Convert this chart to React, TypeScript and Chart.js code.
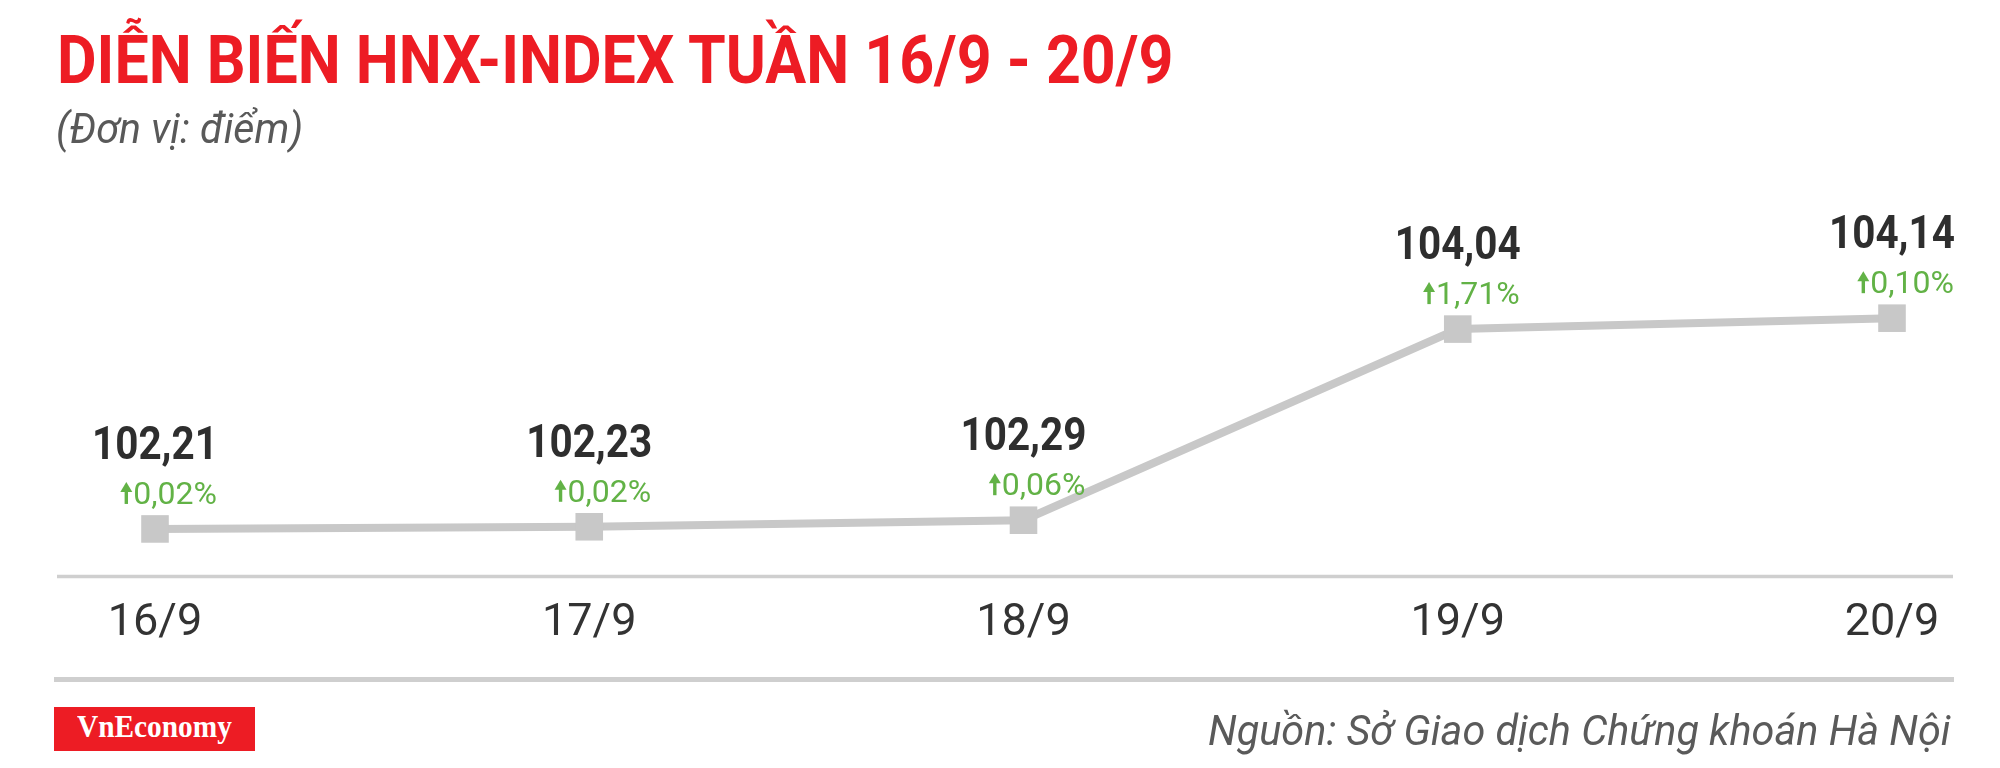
import React, { useEffect, useLayoutEffect, useRef, useState } from "react";
import { Chart, registerables } from "chart.js";

Chart.register(...registerables);

// ---- Data ----
const categories: string[] = ["16/9", "17/9", "18/9", "19/9", "20/9"];
const indexValues: number[] = [102.21, 102.23, 102.29, 104.04, 104.14];
const changePercents: number[] = [0.02, 0.02, 0.06, 1.71, 0.1];
const yRange: number[] = [101.77, 105.68];

const TITLE = "DIỄN BIẾN HNX-INDEX TUẦN 16/9 - 20/9";
const SUBTITLE = "(Đơn vị: điểm)";
const SOURCE = "Nguồn: Sở Giao dịch Chứng khoán Hà Nội";
const LOGO = "VnEconomy";

const RED = "#ed1c24";
const LINE = "#c8c8c8";
const RULE = "#cfcfcf";
const DARK = "#2e2e2e";
const GREEN = "#62b246";

const fmt = (v: number, d: number) => v.toFixed(d).replace(".", ",");

type FitProps = {
  text: string;
  left: number;
  right: number;
  top: number;
  fontSize: number;
  origin?: string;
  style?: React.CSSProperties;
};

function FitText({ text, left, right, top, fontSize, origin = "left top", style }: FitProps) {
  const ref = useRef<HTMLSpanElement>(null);
  const [k, setK] = useState(1);
  useLayoutEffect(() => {
    const measure = () => {
      if (ref.current) {
        const w = ref.current.offsetWidth;
        if (w) setK((right - left) / w);
      }
    };
    measure();
    if ((document as any).fonts && (document as any).fonts.ready) {
      (document as any).fonts.ready.then(measure);
    }
  }, [text, left, right]);
  return (
    <div
      style={{
        position: "absolute",
        left,
        top,
        width: right - left,
        height: fontSize,
        fontSize,
        lineHeight: `${fontSize}px`,
        whiteSpace: "nowrap",
        ...style,
      }}
    >
      <span
        ref={ref}
        style={{ display: "inline-block", transform: `scaleX(${k})`, transformOrigin: origin }}
      >
        {text}
      </span>
    </div>
  );
}

const decorPlugin = {
  id: "decor",
  beforeDatasetsDraw(chart: any) {
    const { ctx, chartArea } = chart;
    ctx.save();
    ctx.strokeStyle = RULE;
    ctx.lineWidth = 3.5;
    ctx.beginPath();
    ctx.moveTo(57, chartArea.bottom - 0.5);
    ctx.lineTo(1953, chartArea.bottom - 0.5);
    ctx.stroke();
    ctx.lineWidth = 5;
    ctx.beginPath();
    ctx.moveTo(54, 679.5);
    ctx.lineTo(1954, 679.5);
    ctx.stroke();
    ctx.restore();
  },
};

const labelPlugin = {
  id: "pointLabels",
  afterDatasetsDraw(chart: any) {
    const { ctx } = chart;
    const meta = chart.getDatasetMeta(0);
    meta.data.forEach((pt: any, i: number) => {
      const x = pt.x;
      const y = pt.y;
      // value label
      ctx.save();
      ctx.translate(x, y - 70);
      ctx.scale(0.86, 1);
      ctx.font = "bold 47px Roboto";
      ctx.fillStyle = DARK;
      ctx.textAlign = "center";
      ctx.textBaseline = "alphabetic";
      ctx.fillText(fmt(indexValues[i], 2), 0, 0);
      ctx.restore();

      // percent label
      ctx.save();
      ctx.font = "32px Roboto";
      ctx.fillStyle = GREEN;
      ctx.textAlign = "right";
      ctx.textBaseline = "alphabetic";
      const txt = fmt(changePercents[i], 2) + "%";
      const rx = x + 62;
      const by = y - 25;
      ctx.fillText(txt, rx, by);
      const w = ctx.measureText(txt).width;
      const ax = rx - w - 7;
      const h = 22;
      ctx.fillRect(ax - 1.7, by - h + 8, 3.4, h - 8);
      ctx.beginPath();
      ctx.moveTo(ax, by - h);
      ctx.lineTo(ax - 6, by - h + 10);
      ctx.lineTo(ax + 6, by - h + 10);
      ctx.closePath();
      ctx.fill();
      ctx.restore();
    });
  },
};

function LineChart() {
  const canvasRef = useRef<HTMLCanvasElement>(null);
  useEffect(() => {
    if (!canvasRef.current) return;
    const chart = new Chart(canvasRef.current, {
      type: "line",
      data: {
        labels: categories,
        datasets: [
          {
            data: indexValues,
            borderColor: LINE,
            borderWidth: 8,
            pointStyle: "rect",
            pointRadius: 19.5,
            pointHoverRadius: 19.5,
            pointBackgroundColor: LINE,
            pointBorderColor: LINE,
            pointBorderWidth: 0,
            tension: 0,
            clip: false as any,
          },
        ],
      },
      options: {
        responsive: false,
        devicePixelRatio: 1,
        animation: false,
        events: [],
        layout: { padding: { left: 155, right: 108, top: 150, bottom: 97 } },
        plugins: {
          legend: { display: false },
          tooltip: { enabled: false },
        },
        scales: {
          x: {
            grid: { display: false, drawTicks: false },
            border: { display: false },
            ticks: {
              padding: 20,
              color: "#333333",
              maxRotation: 0,
              autoSkip: false,
              font: { family: "Roboto", size: 45, weight: "normal", lineHeight: 1.2 },
            },
          },
          y: { display: false, min: yRange[0], max: yRange[1] },
        },
      },
      plugins: [decorPlugin, labelPlugin],
    } as any);
    return () => chart.destroy();
  }, []);
  return <canvas ref={canvasRef} width={2000} height={768} style={{ position: "absolute", left: 0, top: 0 }} />;
}

export default function App() {
  return (
    <div
      style={{
        position: "absolute",
        left: 0,
        top: 0,
        width: 2000,
        height: 768,
        background: "#ffffff",
        overflow: "hidden",
        fontFamily: "Roboto, sans-serif",
      }}
    >
      <LineChart />
      <FitText
        text={TITLE}
        left={57}
        right={1173}
        top={27}
        fontSize={67}
        style={{ color: RED, fontWeight: 700 }}
      />
      <FitText
        text={SUBTITLE}
        left={56}
        right={303}
        top={108}
        fontSize={42}
        style={{ color: "#595959", fontStyle: "italic" }}
      />
      <FitText
        text={SOURCE}
        left={1208}
        right={1951}
        top={709.5}
        fontSize={42}
        style={{ color: "#5a5a5a", fontStyle: "italic" }}
      />
      <div
        style={{ position: "absolute", left: 54, top: 707, width: 201, height: 44, background: RED }}
      />
      <FitText
        text={LOGO}
        left={77}
        right={232}
        top={710.4}
        fontSize={32}
        style={{ color: "#ffffff", fontWeight: 700, fontFamily: "'Liberation Serif', serif" }}
      />
    </div>
  );
}
